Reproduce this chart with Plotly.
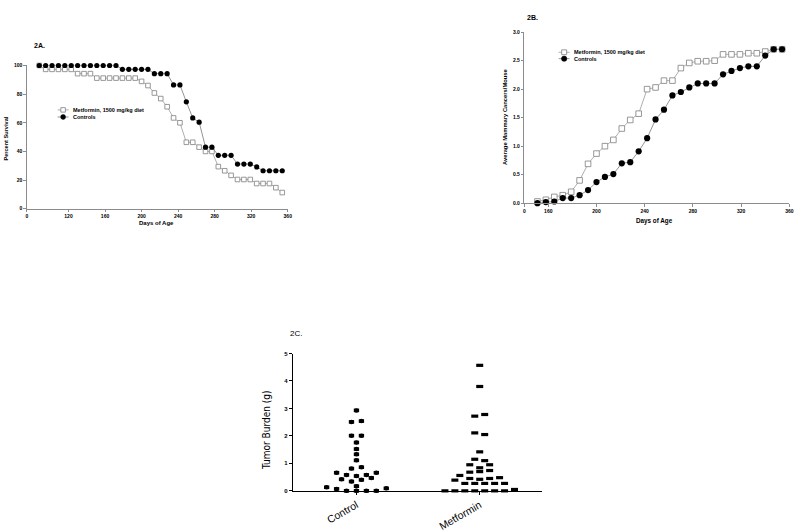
import plotly.graph_objects as go

# ---------------- Data ----------------
# Panel 2A: percent survival by day of age
surv_days = [88, 95, 102, 109, 116, 123, 130, 137, 144, 151, 158, 165, 172, 179, 186,
             193, 200, 207, 214, 221, 228, 235, 242, 249, 256, 263, 270, 277, 284, 291,
             298, 305, 312, 319, 326, 333, 340, 347, 354]
surv_metformin = [100, 97.3, 97.3, 97.3, 97.3, 97.3, 94.3, 94.3, 94.3, 91.2, 91.2, 91.2,
                  91.2, 91.2, 91.2, 91.2, 88.9, 86.0, 80.8, 76.9, 71.2, 63.4, 60.0, 46.4,
                  46.4, 43.0, 40.0, 40.0, 29.4, 26.5, 23.3, 20.4, 20.4, 20.4, 17.6, 17.6,
                  17.6, 14.7, 11.3]
surv_control = [100, 100, 100, 100, 100, 100, 100, 100, 100, 100, 100, 100, 100, 97.3,
                97.3, 97.3, 97.3, 97.3, 94.3, 94.3, 94.3, 86.4, 86.4, 74.6, 63.4, 60.4,
                43.0, 43.0, 37.3, 37.3, 37.3, 31.2, 31.2, 31.2, 29.2, 26.5, 26.5, 26.5, 26.5]
surv_xticks = [120, 160, 200, 240, 280, 320, 360]

# Panel 2B: average mammary cancers per mouse
canc_days = [151, 158, 165, 172, 179, 186, 193, 200, 207, 214, 221, 228, 235, 242, 249,
             256, 263, 270, 277, 284, 291, 298, 305, 312, 319, 326, 333, 340, 347, 354]
canc_metformin = [0.03, 0.06, 0.11, 0.14, 0.20, 0.40, 0.69, 0.87, 1.00, 1.11, 1.31, 1.46,
                  1.57, 2.00, 2.03, 2.15, 2.15, 2.37, 2.46, 2.49, 2.49, 2.50, 2.61, 2.61,
                  2.61, 2.63, 2.63, 2.66, 2.70, 2.70]
canc_control = [0.00, 0.02, 0.03, 0.09, 0.09, 0.14, 0.23, 0.37, 0.46, 0.51, 0.70, 0.72,
                0.91, 1.14, 1.47, 1.64, 1.89, 1.95, 2.03, 2.10, 2.10, 2.10, 2.26, 2.32,
                2.37, 2.40, 2.40, 2.59, 2.70, 2.70]
canc_xticks = [160, 200, 240, 280, 320, 360]

# Panel 2C: tumor burden (g) per mouse
burden_groups = ["Control", "Metformin"]
burden_control = [0.13, 0.07, 0, 0, 0, 0, 0.09, 0.17, 0.42, 0.34, 0.40, 0.47, 0.66, 0.58,
                  0.54, 0.58, 0.66, 0.81, 0.86, 1.11, 1.33, 1.52, 1.76, 2.01, 2.01, 2.51,
                  2.54, 2.93]
burden_metformin = [0, 0, 0, 0, 0, 0, 0, 0.05, 0.39, 0.27, 0.27, 0.27, 0.27, 0.27, 0.56,
                    0.45, 0.42, 0.45, 0.48, 0.68, 0.70, 0.74, 0.95, 0.84, 0.95, 1.15,
                    1.10, 1.42, 2.11, 2.05, 2.72, 2.78, 3.80, 4.57]

LEG_MET = "Metformin, 1500 mg/kg diet"
LEG_CON = "Controls"


def swarm(values, center, bin_h=0.145, step=0.0806):
    """Prism-like scatter dot layout: bin sorted values into rows, centre each row."""
    n = len(values)
    order = sorted(range(n), key=lambda i: (values[i], i))
    rows, cur, start = [], [], None
    for i in order:
        if start is None or values[i] - start >= bin_h:
            if cur:
                rows.append(cur)
            cur, start = [i], values[i]
        else:
            cur.append(i)
    if cur:
        rows.append(cur)
    xs = [0.0] * n
    for row in rows:
        row = sorted(row)
        k = len(row)
        for j, i in enumerate(row):
            xs[i] = center + (j - (k - 1) / 2) * step
    return xs


W, H = 800, 532


def fx(px):
    return px / W


def fy(py):
    return 1 - py / H


GRAY = "#8c8c8c"
LINEG = "#9a9a9a"
FONT = "Liberation Sans, Arial, sans-serif"

fig = go.Figure()

# ---- 2A traces ----
fig.add_trace(go.Scatter(
    x=surv_days, y=surv_metformin, mode="lines+markers", name=LEG_MET,
    line=dict(color=LINEG, width=0.8),
    marker=dict(symbol="square", size=4.6, color="white", line=dict(color=GRAY, width=0.9)),
    xaxis="x", yaxis="y", cliponaxis=False))
fig.add_trace(go.Scatter(
    x=surv_days, y=surv_control, mode="lines+markers", name=LEG_CON,
    line=dict(color="#7a7a7a", width=0.8),
    marker=dict(symbol="circle", size=5.2, color="black"),
    xaxis="x", yaxis="y", cliponaxis=False))

# ---- 2B traces ----
fig.add_trace(go.Scatter(
    x=canc_days, y=canc_metformin, mode="lines+markers", name=LEG_MET,
    line=dict(color=LINEG, width=0.8),
    marker=dict(symbol="square", size=5.6, color="white", line=dict(color=GRAY, width=0.9)),
    xaxis="x2", yaxis="y2", cliponaxis=False))
fig.add_trace(go.Scatter(
    x=canc_days, y=canc_control, mode="lines+markers", name=LEG_CON,
    line=dict(color="#7a7a7a", width=0.8),
    marker=dict(symbol="circle", size=6.2, color="black"),
    xaxis="x2", yaxis="y2", cliponaxis=False))

# ---- 2C traces ----
xc = swarm(burden_control, 0)
xm = swarm(burden_metformin, 1)
fig.add_trace(go.Scatter(
    x=xc, y=burden_control, mode="markers", name=burden_groups[0],
    marker=dict(symbol="line-ew", size=3.8, line=dict(color="black", width=3.6)),
    xaxis="x3", yaxis="y3", cliponaxis=False))
fig.add_trace(go.Scatter(
    x=xc, y=burden_control, mode="markers", name=burden_groups[0],
    marker=dict(symbol="circle", size=4.5, color="black", line=dict(width=0)),
    xaxis="x3", yaxis="y3", cliponaxis=False))
fig.add_trace(go.Scatter(
    x=xm, y=burden_metformin, mode="markers", name=burden_groups[1],
    marker=dict(symbol="line-ew", size=5, line=dict(color="black", width=3.2)),
    xaxis="x3", yaxis="y3", cliponaxis=False))

# ---------------- Axes ----------------
# 2A: broken x axis ("0" label placed where the axis starts)
a_x0 = 74.4
small_axis = dict(showline=True, linecolor=GRAY, linewidth=1, ticks="outside",
                  tickcolor=GRAY, ticklen=2.5, tickwidth=0.8, showgrid=False,
                  zeroline=False, tickfont=dict(family=FONT, size=5, weight="bold"))
fig.update_layout(
    xaxis=dict(domain=[fx(26), fx(289)], range=[a_x0, 360.5], anchor="y",
               tickvals=[a_x0] + surv_xticks,
               ticktext=["0"] + [str(t) for t in surv_xticks], **small_axis),
    yaxis=dict(domain=[fy(211.7), fy(64.3)], range=[0, 100], anchor="x",
               tickvals=[0, 20, 40, 60, 80, 100], **small_axis),
)
b_x0 = 140.2
fig.update_layout(
    xaxis2=dict(domain=[fx(526.7), fx(793.3)], range=[b_x0, 360], anchor="y2",
                tickvals=[b_x0] + canc_xticks,
                ticktext=["0"] + [str(t) for t in canc_xticks], **small_axis),
    yaxis2=dict(domain=[fy(206), fy(30)], range=[0, 3], anchor="x2",
                tickvals=[0, 0.5, 1, 1.5, 2, 2.5, 3], tickformat=".1f", **small_axis),
)
fig.update_layout(
    xaxis3=dict(domain=[fx(294.3), fx(544)], range=[-0.511, 1.502], anchor="y3",
                tickvals=[0, 1], ticktext=burden_groups, tickangle=-30,
                showline=True, linecolor="black", linewidth=1.4, ticks="outside",
                ticklen=3, tickcolor="black", tickwidth=1, showgrid=False, zeroline=False,
                tickfont=dict(family=FONT, size=10.5, color="black")),
    yaxis3=dict(domain=[fy(502), fy(360.7)], range=[0, 5], anchor="x3",
                tickvals=[0, 1, 2, 3, 4, 5], showline=True, linecolor="black",
                linewidth=1.4, ticks="outside", ticklen=3.5, tickcolor="black",
                tickwidth=1, showgrid=False, zeroline=False,
                tickfont=dict(family=FONT, size=6, color="black", weight="bold")),
)

# ---------------- Text ----------------
ann = []


def text(px, py, s, size, bold=True, angle=0, xanchor="center", family=FONT):
    ann.append(dict(x=fx(px), y=fy(py), xref="paper", yref="paper", text=s,
                    showarrow=False, textangle=angle, xanchor=xanchor, yanchor="middle",
                    font=dict(family=family, size=size, color="black",
                              weight="bold" if bold else "normal")))


text(39, 44, "2A.", 7)
text(5.5, 139, "Percent Survival", 5.6, angle=-90)
text(156, 226.5, "Days of Age", 6)
text(535, 15, "2B.", 7)
text(506.5, 117, "Average Mammary Cancers/Mouse", 5.8, angle=-90)
text(658, 224.5, "Days of Age", 6.3)
text(297, 340, "2C.", 8, bold=False)
text(267, 440, "Tumor Burden (g)", 10, bold=False, angle=-90,
     family="Liberation Sans Narrow, Arial Narrow, DejaVu Sans Condensed, sans-serif")

# legends (key glyphs + labels)
shapes = []


def legend_entry(cx, cy, label, filled, half=5.5, msize=4.6, tx=None):
    shapes.append(dict(type="line", xref="paper", yref="paper",
                       x0=fx(cx - half), x1=fx(cx + half), y0=fy(cy), y1=fy(cy),
                       line=dict(color="#7a7a7a" if filled else LINEG, width=0.8)))
    r = msize / 2
    if filled:
        shapes.append(dict(type="circle", xref="paper", yref="paper",
                           x0=fx(cx - r), x1=fx(cx + r), y0=fy(cy + r), y1=fy(cy - r),
                           fillcolor="black", line=dict(color="black", width=0.5)))
    else:
        shapes.append(dict(type="rect", xref="paper", yref="paper",
                           x0=fx(cx - r), x1=fx(cx + r), y0=fy(cy + r), y1=fy(cy - r),
                           fillcolor="white", line=dict(color=GRAY, width=0.9)))
    text(tx, cy, label, 5.5, xanchor="left")


legend_entry(62.5, 110, LEG_MET, False, tx=70)
legend_entry(62.5, 117.3, LEG_CON, True, msize=5, tx=70)
legend_entry(566.7, 50.7, LEG_MET, False, msize=5, tx=574.5)
legend_entry(566.7, 57.3, LEG_CON, True, msize=5.4, tx=574.5)

fig.update_layout(
    width=W, height=H, margin=dict(l=0, r=0, t=0, b=0),
    paper_bgcolor="white", plot_bgcolor="white", showlegend=False,
    font=dict(family=FONT, color="black"),
    annotations=ann, shapes=shapes,
)

fig.write_html("out.html", config={"displayModeBar": False},
               post_script="document.body.style.margin='0';document.body.style.overflow='hidden';")
